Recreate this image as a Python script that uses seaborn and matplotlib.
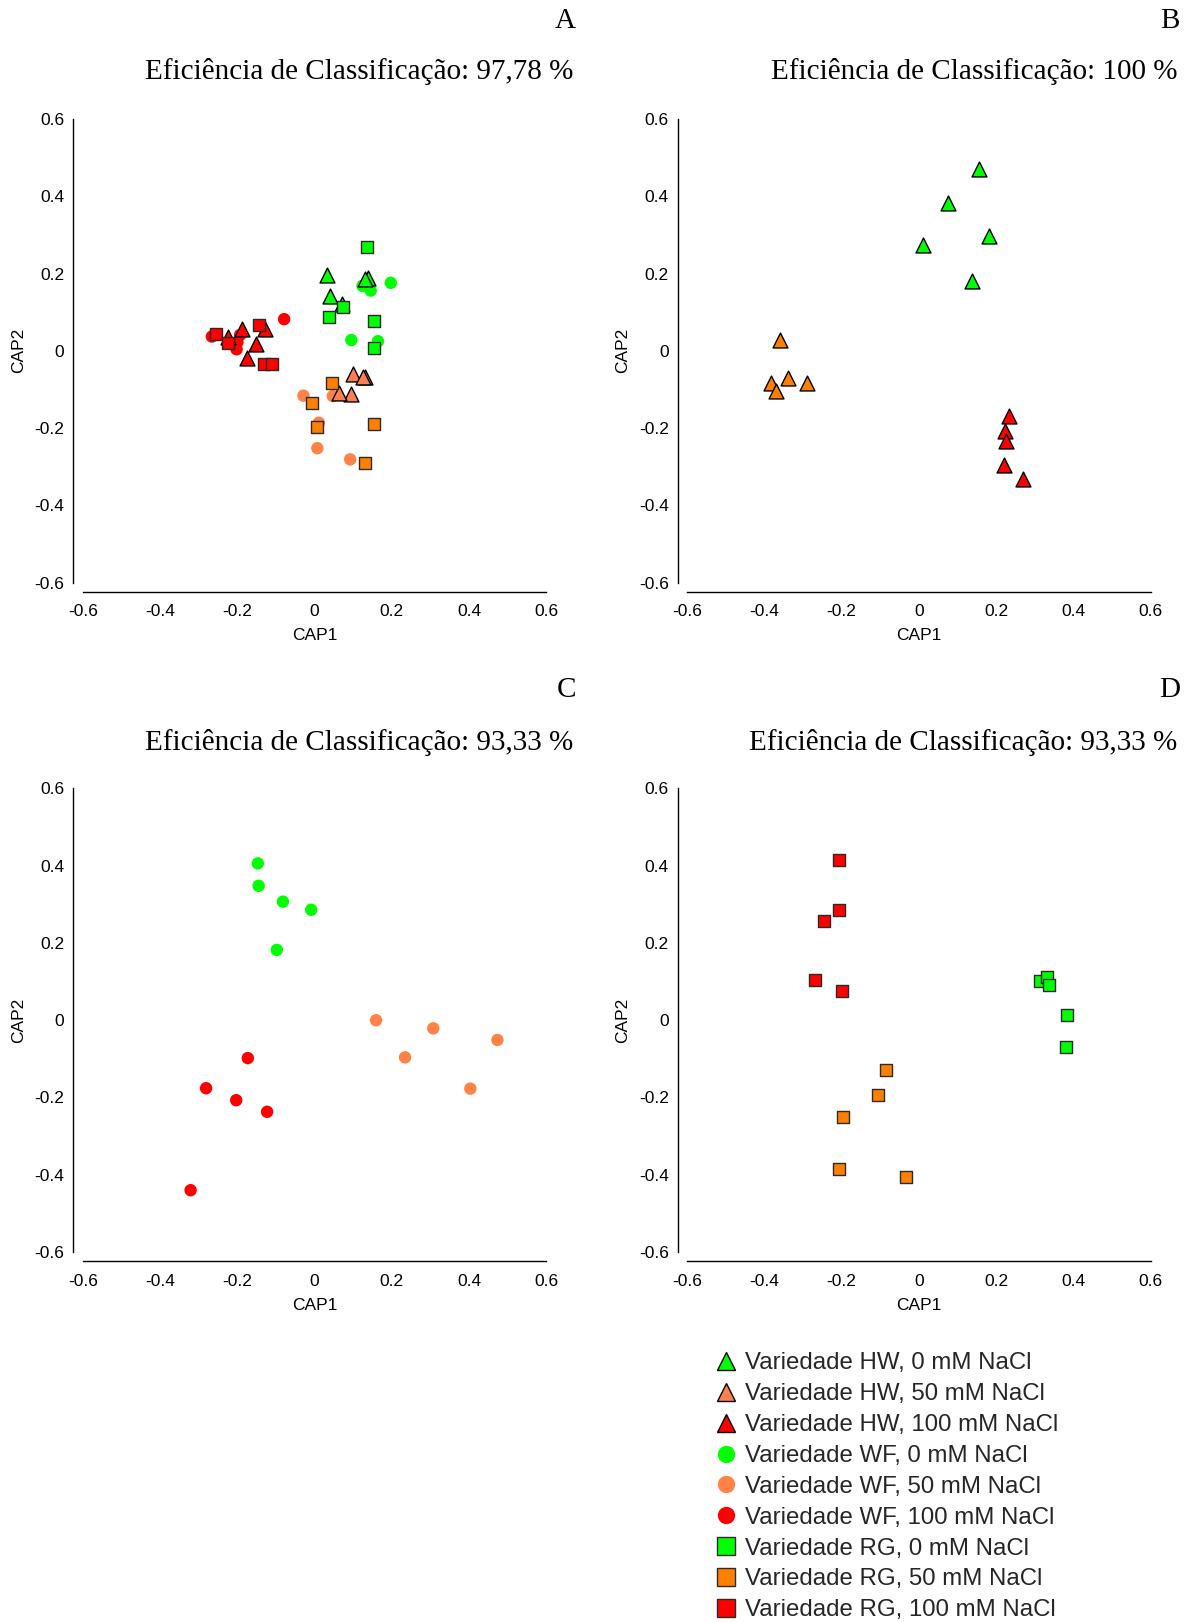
import matplotlib
matplotlib.use("Agg")
import matplotlib.pyplot as plt
from matplotlib.lines import Line2D
import seaborn as sns
import pandas as pd

# ---------------- data ----------------
groups = ["HW0", "HW50", "HW100", "WF0", "WF50", "WF100", "RG0", "RG50", "RG100"]
legend_labels = [
    "Variedade HW, 0 mM NaCl", "Variedade HW, 50 mM NaCl", "Variedade HW, 100 mM NaCl",
    "Variedade WF, 0 mM NaCl", "Variedade WF, 50 mM NaCl", "Variedade WF, 100 mM NaCl",
    "Variedade RG, 0 mM NaCl", "Variedade RG, 50 mM NaCl", "Variedade RG, 100 mM NaCl",
]
panel_letters = ["A", "B", "C", "D"]
panel_titles = [
    "Eficiência de Classificação: 97,78 %",
    "Eficiência de Classificação: 100 %",
    "Eficiência de Classificação: 93,33 %",
    "Eficiência de Classificação: 93,33 %",
]
ticks = [-0.6, -0.4, -0.2, 0, 0.2, 0.4, 0.6]
tick_labels = ["-0.6", "-0.4", "-0.2", "0", "0.2", "0.4", "0.6"]

# Panel A (all nine groups)
a_group = (["WF0"] * 5 + ["WF50"] * 5 + ["WF100"] * 5 +
           ["HW0"] * 5 + ["HW50"] * 5 + ["HW100"] * 5 +
           ["RG0"] * 5 + ["RG50"] * 5 + ["RG100"] * 5)
a_cap1 = [0.197, 0.124, 0.145, 0.095, 0.164,
          -0.029, 0.047, 0.011, 0.007, 0.092,
          -0.079, -0.266, -0.193, -0.200, -0.202,
          0.033, 0.040, 0.139, 0.130, 0.070,
          0.099, 0.131, 0.126, 0.093, 0.064,
          -0.189, -0.128, -0.152, -0.176, -0.225,
          0.136, 0.073, 0.038, 0.154, 0.154,
          0.044, -0.006, 0.005, 0.154, 0.131,
          -0.255, -0.223, -0.143, -0.130, -0.111]
a_cap2 = [0.176, 0.168, 0.156, 0.028, 0.025,
          -0.116, -0.117, -0.186, -0.252, -0.281,
          0.082, 0.037, 0.041, 0.022, 0.004,
          0.196, 0.142, 0.188, 0.185, 0.121,
          -0.060, -0.069, -0.067, -0.112, -0.108,
          0.056, 0.056, 0.018, -0.019, 0.037,
          0.268, 0.114, 0.087, 0.077, 0.007,
          -0.083, -0.136, -0.198, -0.189, -0.290,
          0.043, 0.021, 0.067, -0.035, -0.035]

# Panel B (variety HW)
b_group = ["HW0"] * 5 + ["HW50"] * 5 + ["HW100"] * 5
b_cap1 = [0.156, 0.076, 0.182, 0.011, 0.137,
          -0.360, -0.340, -0.384, -0.371, -0.290,
          0.234, 0.224, 0.226, 0.219, 0.270]
b_cap2 = [0.471, 0.382, 0.297, 0.275, 0.181,
          0.028, -0.071, -0.082, -0.103, -0.084,
          -0.168, -0.207, -0.233, -0.296, -0.332]

# Panel C (variety WF)
c_group = ["WF0"] * 5 + ["WF50"] * 5 + ["WF100"] * 5
c_cap1 = [-0.147, -0.145, -0.082, -0.009, -0.098,
          0.159, 0.307, 0.234, 0.473, 0.403,
          -0.173, -0.281, -0.203, -0.123, -0.321]
c_cap2 = [0.406, 0.348, 0.307, 0.286, 0.182,
          0.000, -0.021, -0.096, -0.051, -0.177,
          -0.098, -0.176, -0.207, -0.237, -0.440]

# Panel D (variety RG)
d_group = ["RG0"] * 5 + ["RG50"] * 5 + ["RG100"] * 5
d_cap1 = [0.313, 0.332, 0.336, 0.383, 0.381,
          -0.085, -0.105, -0.196, -0.206, -0.033,
          -0.208, -0.206, -0.245, -0.270, -0.200]
d_cap2 = [0.102, 0.113, 0.090, 0.013, -0.070,
          -0.128, -0.193, -0.251, -0.385, -0.405,
          0.415, 0.286, 0.258, 0.104, 0.076]

# ---------------- styles ----------------
colors = {
    "HW0": "#00FF00", "HW50": "#FF7F50", "HW100": "#FF0000",
    "WF0": "#00FF00", "WF50": "#FF8247", "WF100": "#FF0000",
    "RG0": "#00FF00", "RG50": "#FF8000", "RG100": "#FF0000",
}
panel_color_override = [{}, {"HW50": "#FF8000"}, {}, {}]
markers = {"HW": "^", "WF": "o", "RG": "s"}
sizes = {"HW": 115, "WF": 80, "RG": 78}
edgecolors = {"HW": "#000000", "WF": "none", "RG": "#2a2a2a"}
draw_order = ["WF0", "WF50", "WF100", "HW0", "HW50", "HW100", "RG0", "RG50", "RG100"]

sns.set_theme(style="white")
plt.rcParams["font.family"] = ["Liberation Sans", "DejaVu Sans"]

fig = plt.figure(figsize=(11.9, 16.22), dpi=100)

axes_pos = [
    [0.0696, 0.6408, 0.3896, 0.2858],
    [0.5774, 0.6408, 0.3896, 0.2858],
    [0.0696, 0.2281, 0.3896, 0.2858],
    [0.5774, 0.2281, 0.3896, 0.2858],
]
panels = [
    (a_cap1, a_cap2, a_group),
    (b_cap1, b_cap2, b_group),
    (c_cap1, c_cap2, c_group),
    (d_cap1, d_cap2, d_group),
]
title_x = [0.4818, 0.9896, 0.4818, 0.9896]
letter_x = [0.4840, 0.9916, 0.4840, 0.9916]
title_y = [0.9562, 0.9562, 0.5425, 0.5425]
letter_y = [0.9868, 0.9868, 0.5746, 0.5746]

for i, (cx, cy, grp) in enumerate(panels):
    ax = fig.add_axes(axes_pos[i])
    df = pd.DataFrame({"CAP1": cx, "CAP2": cy, "group": grp})
    for g in draw_order:
        sub = df[df["group"] == g]
        if sub.empty:
            continue
        kind = g[:2]
        col = panel_color_override[i].get(g, colors[g])
        sns.scatterplot(data=sub, x="CAP1", y="CAP2", ax=ax, color=col,
                        marker=markers[kind], s=sizes[kind],
                        edgecolor=edgecolors[kind],
                        linewidth=(0 if kind == "WF" else 1.0),
                        legend=False, zorder=3, clip_on=False)
    ax.set_xlim(-0.6, 0.6)
    ax.set_ylim(-0.6, 0.6)
    ax.set_xticks(ticks)
    ax.set_xticklabels(tick_labels)
    ax.set_yticks(ticks)
    ax.set_yticklabels(tick_labels)
    for s in ["top", "right"]:
        ax.spines[s].set_visible(False)
    ax.spines["left"].set_position(("outward", 6.8))
    ax.spines["bottom"].set_position(("outward", 6.7))
    ax.spines["left"].set_bounds(-0.6, 0.6)
    ax.spines["bottom"].set_bounds(-0.6, 0.6)
    for s in ["left", "bottom"]:
        ax.spines[s].set_color("black")
        ax.spines[s].set_linewidth(1.0)
    ax.tick_params(axis="both", direction="inout", length=9, width=1.2,
                   color="#808080", labelsize=12.5, labelcolor="black")
    ax.tick_params(axis="x", pad=4.5)
    ax.tick_params(axis="y", pad=2)
    ax.set_xlabel("CAP1", fontsize=12.5, labelpad=6.5, color="black")
    ax.set_ylabel("CAP2", fontsize=12.5, labelpad=6, color="black")
    ax.set_facecolor("white")
    ax.grid(False)

    fig.text(title_x[i], title_y[i], panel_titles[i], ha="right", va="center",
             fontsize=21, family=["Liberation Serif", "DejaVu Serif"], color="black")
    fig.text(letter_x[i], letter_y[i], panel_letters[i], ha="right", va="center",
             fontsize=21, family=["Liberation Serif", "DejaVu Serif"], color="black")

# ---------------- legend ----------------
handles = []
for g, lab in zip(groups, legend_labels):
    kind = g[:2]
    ms = 13.5 if kind == "HW" else 12.5
    handles.append(Line2D([], [], linestyle="none", marker=markers[kind],
                          markersize=ms, markerfacecolor=colors[g],
                          markeredgecolor=(colors[g] if kind == "WF" else edgecolors[kind]),
                          markeredgewidth=(0 if kind == "WF" else 1.0), label=lab))
fig.legend(handles=handles, loc="upper left", bbox_to_anchor=(0.600, 0.1663),
           frameon=False, fontsize=17.3, handlelength=1.0, handletextpad=0.3,
           labelspacing=0.37, borderpad=0, borderaxespad=0)

fig.savefig("out.png", dpi=100, facecolor="white")
